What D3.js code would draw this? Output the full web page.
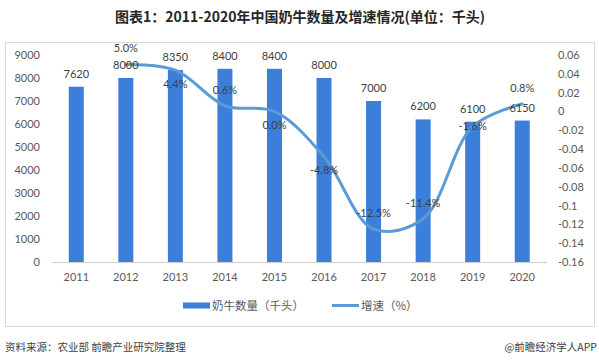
<!DOCTYPE html>
<html>
<head>
<meta charset="utf-8">
<script src="https://d3js.org/d3.v7.min.js"></script>
<style>
  html, body { margin: 0; padding: 0; background: #fff; }
  svg { display: block; }
</style>
</head>
<body>
<script>
// chart data
var years = ['2011', '2012', '2013', '2014', '2015', '2016', '2017', '2018', '2019', '2020'];
var herd = [7620, 8000, 8350, 8400, 8400, 8000, 7000, 6200, 6100, 6150];
var growth = [null, 0.050, 0.044, 0.006, 0.000, -0.048, -0.125, -0.114, -0.016, 0.008];
var growthLabels = ['', '5.0%', '4.4%', '0.6%', '0.0%', '-4.8%', '-12.5%', '-11.4%', '-1.6%', '0.8%'];
var leftTicks = [0, 1000, 2000, 3000, 4000, 5000, 6000, 7000, 8000, 9000];
var rightTicks = [0.06, 0.04, 0.02, 0, -0.02, -0.04, -0.06, -0.08, -0.1, -0.12, -0.14, -0.16];

// where each growth label sits relative to its point
var labelPlace = ['', 'above', 'below', 'above', 'below', 'below', 'above', 'above', 'center', 'above'];

var W = 599, H = 364;
var numFont = "Lato, 'Noto Sans CJK SC', sans-serif";
var cjkFont = "'Noto Sans CJK SC', sans-serif";

var svg = d3.select('body').append('svg').attr('width', W).attr('height', H);

svg.append('text')
  .attr('x', 300).attr('y', 22)
  .attr('text-anchor', 'middle')
  .style('font-family', cjkFont)
  .style('font-size', '14px')
  .style('font-weight', 'bold')
  .style('fill', '#262626')
  .text('图表1：2011-2020年中国奶牛数量及增速情况(单位：千头)');

svg.append('rect')
  .attr('x', 5.5).attr('y', 42.5)
  .attr('width', 589).attr('height', 284)
  .attr('fill', 'none')
  .attr('stroke', '#d9d9d9');

var x = d3.scaleBand().domain(years).range([51.5, 547]);
var yL = d3.scaleLinear().domain([0, 9000]).range([262, 55]);
var yR = d3.scaleLinear().domain([-0.16, 0.06]).range([262, 55]);

// left axis
var gl = svg.append('g')
  .attr('transform', 'translate(40,0)')
  .call(d3.axisLeft(yL).tickValues(leftTicks).tickSize(0).tickPadding(0).tickFormat(d3.format('d')));
gl.select('.domain').remove();
gl.selectAll('text')
  .style('font-family', numFont).style('font-size', '11px').style('fill', '#595959');

// right axis
var gr = svg.append('g')
  .attr('transform', 'translate(558,0)')
  .call(d3.axisRight(yR).tickValues(rightTicks).tickSize(0).tickPadding(0)
    .tickFormat(function (d) { return String(+d.toFixed(2)); }));
gr.select('.domain').remove();
gr.selectAll('text')
  .style('font-family', numFont).style('font-size', '11px').style('fill', '#595959');

// bars
var barW = 15;
svg.selectAll('rect.bar')
  .data(herd)
  .enter().append('rect')
  .attr('class', 'bar')
  .attr('x', function (d, i) { return x(years[i]) + x.bandwidth() / 2 - barW / 2; })
  .attr('y', function (d) { return yL(d); })
  .attr('width', barW)
  .attr('height', function (d) { return yL(0) - yL(d); })
  .attr('fill', '#3b7fdb');

// bottom axis
var gb = svg.append('g')
  .attr('transform', 'translate(0,262)')
  .call(d3.axisBottom(x).tickSize(0).tickPadding(11));
gb.select('.domain').attr('stroke', '#d0d0d0').attr('d', 'M51.5,0.5H547');
gb.selectAll('text')
  .style('font-family', numFont).style('font-size', '11px').style('fill', '#595959');

// growth line
var pts = growth.map(function (g, i) { return { year: years[i], v: g, label: growthLabels[i], place: labelPlace[i] }; })
  .filter(function (d) { return d.v !== null; });

var line = d3.line()
  .x(function (d) { return x(d.year) + x.bandwidth() / 2; })
  .y(function (d) { return yR(d.v); })
  .curve(d3.curveCatmullRom.alpha(0.5));

svg.append('path')
  .datum(pts)
  .attr('d', line)
  .attr('fill', 'none')
  .attr('stroke', '#5b9bd5')
  .attr('stroke-width', 3)
  .attr('stroke-linecap', 'round');

// bar value labels
svg.selectAll('text.bval')
  .data(herd)
  .enter().append('text')
  .attr('class', 'bval')
  .attr('x', function (d, i) { return x(years[i]) + x.bandwidth() / 2; })
  .attr('y', function (d) { return yL(d) - 9; })
  .attr('text-anchor', 'middle')
  .style('font-family', numFont).style('font-size', '11px').style('fill', '#404040')
  .text(function (d) { return d; });

// growth labels
svg.selectAll('text.gval')
  .data(pts)
  .enter().append('text')
  .attr('class', 'gval')
  .attr('x', function (d) { return x(d.year) + x.bandwidth() / 2; })
  .attr('y', function (d) {
    var off = d.place === 'above' ? -16 : d.place === 'below' ? 14 : 0;
    return yR(d.v) + off;
  })
  .attr('dy', '0.35em')
  .attr('text-anchor', 'middle')
  .style('font-family', numFont).style('font-size', '11px').style('fill', '#404040')
  .text(function (d) { return d.label; });

// legend
var lg = svg.append('g');
lg.append('rect').attr('x', 183).attr('y', 302.5).attr('width', 27).attr('height', 6).attr('fill', '#3b7fdb');
lg.append('text').attr('x', 212).attr('y', 310)
  .style('font-family', cjkFont).style('font-size', '11.5px').style('fill', '#595959')
  .text('奶牛数量（千头）');
lg.append('line').attr('x1', 332).attr('x2', 359).attr('y1', 305.5).attr('y2', 305.5)
  .attr('stroke', '#5b9bd5').attr('stroke-width', 3);
lg.append('text').attr('x', 361).attr('y', 310)
  .style('font-family', cjkFont).style('font-size', '11.5px').style('fill', '#595959')
  .text('增速（%）');

// source notes
svg.append('text').attr('x', 5).attr('y', 351)
  .style('font-family', cjkFont).style('font-size', '10.5px').style('fill', '#404040')
  .text('资料来源：农业部 前瞻产业研究院整理');
svg.append('text').attr('x', 597).attr('y', 351)
  .attr('text-anchor', 'end')
  .style('font-family', cjkFont).style('font-size', '10.5px').style('fill', '#404040')
  .text('@前瞻经济学人APP');
</script>
</body>
</html>
